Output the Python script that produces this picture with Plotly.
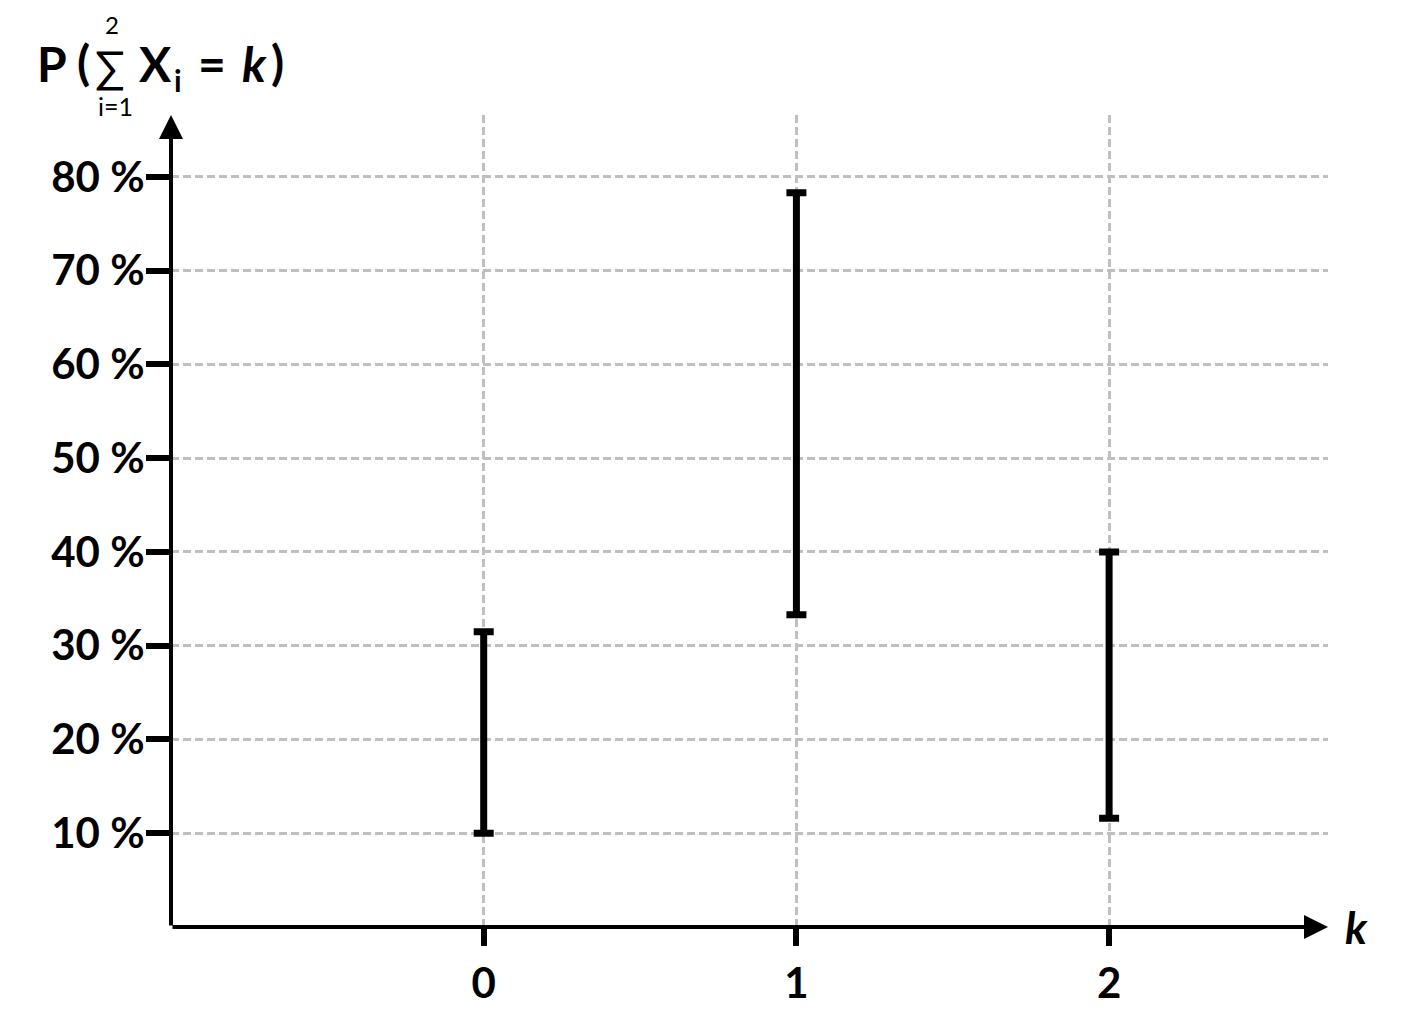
import plotly.graph_objects as go

# Data
k_values = [0, 1, 2]
lower_pct = [10.0, 33.3, 11.6]
upper_pct = [31.5, 78.3, 40.0]
y_tick_vals = [10, 20, 30, 40, 50, 60, 70, 80]
y_tick_text = ["10 %", "20 %", "30 %", "40 %", "50 %", "60 %", "70 %", "80 %"]
x_tick_text = ["0", "1", "2"]

mid = [(lo + hi) / 2 for lo, hi in zip(lower_pct, upper_pct)]
half = [(hi - lo) / 2 for lo, hi in zip(lower_pct, upper_pct)]

FONT = "Lato"
OFF = 8  # page body margin
W, H = 1423 - 2 * OFF, 1016 - 2 * OFF
L, T = 171 - OFF, 115 - OFF
R = W - (1328 - OFF)
B = H - (927 - OFF)
PW, PH = W - L - R, H - T - B
XR = [-1, 2.70]
YR = [0, 86.6]

fig = go.Figure()
fig.add_trace(go.Scatter(
    x=k_values, y=mid, mode="markers",
    marker=dict(size=1, opacity=0),
    error_y=dict(type="data", symmetric=True, array=half,
                 color="black", thickness=7, width=10),
    showlegend=False, hoverinfo="skip",
))

def px(xs):
    return (xs - OFF - L) / PW

def py(ys):
    return (H - B - (ys - OFF)) / PH

ann = []
# axes with arrows
ann.append(dict(x=XR[1], y=0, ax=XR[0], ay=0, xref="x", yref="y", axref="x", ayref="y",
                text="", showarrow=True, arrowhead=2, arrowsize=1.2, arrowwidth=4,
                arrowcolor="black", standoff=0, startstandoff=0))
ann.append(dict(x=XR[0], y=YR[1], ax=XR[0], ay=0, xref="x", yref="y", axref="x", ayref="y",
                text="", showarrow=True, arrowhead=2, arrowsize=1.2, arrowwidth=4,
                arrowcolor="black", standoff=0, startstandoff=0))

def txt(t, xs, ys, size, italic=False, bold=True):
    s = f"<i>{t}</i>" if italic else t
    if bold:
        s = f"<b>{s}</b>"
    ann.append(dict(x=px(xs), y=py(ys), xref="paper", yref="paper", text=s,
                    showarrow=False, xanchor="center", yanchor="middle",
                    font=dict(family=FONT, size=size, color="black")))

# x label k
txt("k", 1356, 927, 44, italic=True)
# title P ( sum X_i = k )
txt("P", 52, 64, 48)
txt("(", 83, 62, 48)
txt("∑", 110, 66, 44, bold=False)
txt("2", 112, 24, 24, bold=False)
txt("i=1", 115, 106, 25, bold=False)
txt("X", 155, 64, 48)
txt("i", 178, 80, 30)
txt("=", 212, 64, 48)
txt("k", 254, 64, 48, italic=True)
txt(")", 277, 62, 48)

grid_common = dict(gridcolor="#bfbfbf", griddash="8px,4px", gridwidth=2.5)

fig.update_layout(
    width=W, height=H,
    margin=dict(l=L, r=R, t=T, b=B, pad=0),
    paper_bgcolor="white", plot_bgcolor="white",
    annotations=ann,
    xaxis=dict(range=XR, tickvals=k_values, ticktext=[f"<b>{t}</b>" for t in x_tick_text],
               showline=False, zeroline=False, showgrid=True, automargin=False,
               ticks="outside", ticklen=18, tickwidth=6, tickcolor="black",
               tickfont=dict(family=FONT, size=42, color="black"), ticklabelstandoff=2,
               **grid_common),
    yaxis=dict(range=YR, tickvals=y_tick_vals, ticktext=[f"<b>{t}</b>" for t in y_tick_text],
               showline=False, zeroline=False, showgrid=True, automargin=False,
               ticks="outside", ticklen=24, tickwidth=6, tickcolor="black",
               tickfont=dict(family=FONT, size=42, color="black"), ticklabelstandoff=-7,
               **grid_common),
)

fig.write_html("out.html")
